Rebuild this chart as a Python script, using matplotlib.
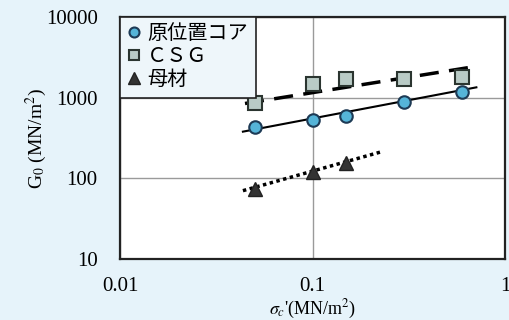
import numpy as np
import matplotlib
matplotlib.use("Agg")
import matplotlib.pyplot as plt

# data
stress_core = [0.05, 0.1, 0.15, 0.3, 0.6]
g0_core = [437, 528, 598, 877, 1186]
stress_csg = [0.05, 0.1, 0.15, 0.3, 0.6]
g0_csg = [851, 1478, 1691, 1690, 1823]
stress_base = [0.05, 0.1, 0.15]
g0_base = [73, 121, 153]
labels = ["原位置コア", "ＣＳＧ", "母材"]

# trend lines (end points)
trend_core_x = [0.0435, 0.71]
trend_core_y = [379, 1343]
trend_csg_x = [0.0446, 0.69]
trend_csg_y = [847, 2420]
trend_base_x = [0.0435, 0.229]
trend_base_y = [70.3, 214]

xticks = [0.01, 0.1, 1]
xtick_labels = ['0.01', '0.1', '1']
yticks = [10, 100, 1000, 10000]
ytick_labels = ['10', '100', '1000', '10000']

plt.rcParams['mathtext.fontset'] = 'stix'
serif = ['Liberation Serif', 'Noto Sans CJK JP']

fig = plt.figure(figsize=(5.1, 3.2), dpi=100)
bg = '#e6f3fa'
fig.patch.set_facecolor(bg)
ax = fig.add_axes([120/510, 1-259/320, 385/510, 242/320])
ax.set_facecolor('white')
ax.set_xscale('log')
ax.set_yscale('log')
ax.set_xlim(0.01, 1)
ax.set_ylim(10, 10000)

ax.plot(trend_core_x, trend_core_y, color='black', lw=1.5, zorder=3)
ax.plot(trend_csg_x, trend_csg_y, color='black', lw=2.5, dashes=(5.5, 3), zorder=3)
ax.plot(trend_base_x, trend_base_y, color='black', lw=2.5, dashes=(1, 1), zorder=3)

h1, = ax.plot(stress_core, g0_core, 'o', ms=9, mfc='#55b4d8', mec='#1d3a55', mew=1.5, ls='none', zorder=4)
h2, = ax.plot(stress_csg, g0_csg, 's', ms=9.5, mfc='#b9cbc6', mec='#2b3530', mew=1.5, ls='none', zorder=4)
h3, = ax.plot(stress_base, g0_base, '^', ms=10, mfc='#333333', mec='#222222', mew=1, ls='none', zorder=4)

ax.grid(True, which='major', color='#9a9a9a', lw=1.0)
ax.minorticks_off()
ax.tick_params(length=0, labelsize=15)
ax.tick_params(axis='x', pad=13)
ax.tick_params(axis='y', pad=16)
ax.set_xticks(xticks)
ax.set_xticklabels(xtick_labels, family='Liberation Serif')
ax.set_yticks(yticks)
ax.set_yticklabels(ytick_labels, family='Liberation Serif')
for s in ax.spines.values():
    s.set_linewidth(1.6)
    s.set_color('#222222')

ax.set_xlabel(r"$\sigma_c$'(MN/m$^2$)", fontsize=13, family='Liberation Serif')
ax.xaxis.set_label_coords(0.5, -0.16)
ax.set_ylabel(r"G$_0$ (MN/m$^2$)", fontsize=14, family='Liberation Serif')
ax.yaxis.set_label_coords(-0.185, 0.5)

leg = ax.legend([h1, h2, h3], labels, loc='upper left', bbox_to_anchor=(0, 1),
                borderaxespad=0, prop={'family': serif, 'size': 14.5}, handlelength=0.6,
                handletextpad=0.35, labelspacing=0.2, borderpad=0.4, fancybox=False,
                framealpha=1, edgecolor='#222222', facecolor='#eef6fa', markerscale=0.8)
leg.get_frame().set_linewidth(1.2)
leg.set_zorder(5)

fig.savefig('out.png', dpi=100, facecolor=bg)
